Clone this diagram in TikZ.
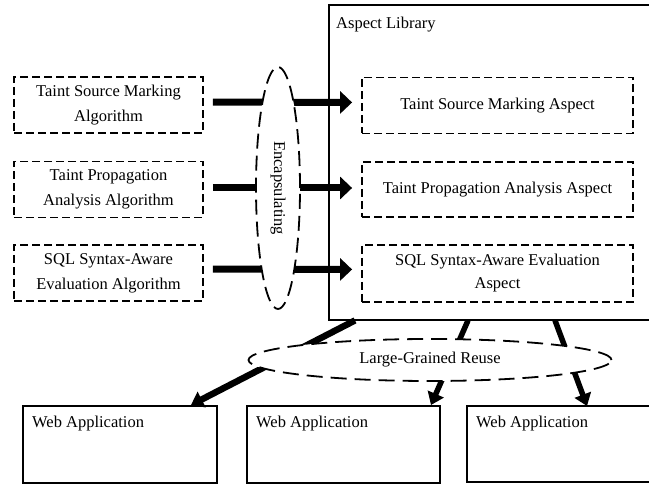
\documentclass[tikz,border=0pt]{standalone}
\usepackage{fontspec}
\setmainfont{Liberation Serif}
\usetikzlibrary{arrows.meta,shapes.geometric,calc}
\begin{document}
\begin{tikzpicture}[x=1pt,y=-1pt,
  txt/.style={font=\fontsize{16.5}{25}\selectfont, align=center},
  dashbox/.style={draw, line width=1.8pt, dash pattern=on 8pt off 4pt, rectangle, txt},
  solidbox/.style={draw, line width=2pt, rectangle},
  openbox/.style={rectangle, inner sep=0pt},
  dashell/.style={draw, ellipse, fill=white, line width=1.8pt, dash pattern=on 15pt off 7pt, inner sep=0pt},
  bigarrow/.style={line width=7pt, -{Triangle[length=12pt,width=22pt]}},
  downarrow/.style={line width=5.5pt, -{Triangle[length=12pt,width=17pt]}}]
\useasboundingbox (0,0) rectangle (649,484);
\fill[white] (0,0) rectangle (649,484);

% aspect library: its right side lies beyond the page, so only three sides are drawn
\node[openbox, minimum width=320pt, minimum height=315pt, anchor=north west] (al) at (329,5) {};
\draw[line width=2pt] (al.north east) -- (al.north west) -- (al.south west) -- (al.south east);
\node[txt, anchor=west, inner sep=0pt] (allabel) at (336,25) {Aspect Library};

% algorithms
\node[dashbox, minimum width=189pt, minimum height=56pt] (l1) at (108.5,105) {Taint Source Marking\\Algorithm};
\node[dashbox, minimum width=189pt, minimum height=56pt] (l2) at (108.5,189.5) {Taint Propagation\\Analysis Algorithm};
\node[dashbox, minimum width=189pt, minimum height=56pt] (l3) at (108.5,273) {SQL Syntax-Aware\\Evaluation Algorithm};

% aspects
\node[dashbox, minimum width=271pt, minimum height=56pt] (r1) at (497.5,105.5) {Taint Source Marking Aspect};
\node[dashbox, minimum width=271pt, minimum height=55pt] (r2) at (497.5,189.5) {Taint Propagation Analysis Aspect};
\node[dashbox, minimum width=271pt, minimum height=57pt, font=\fontsize{16.5}{23}\selectfont] (r3) at (497.5,273.5) {SQL Syntax-Aware Evaluation\\Aspect};

% web applications
\node[solidbox, minimum width=194pt, minimum height=77pt] (w1) at (120,444.5) {};
\node[solidbox, minimum width=193pt, minimum height=77pt] (w2) at (343.5,444.5) {};
\node[openbox, minimum width=182pt, minimum height=76pt, anchor=north west] (w3) at (467,406) {};
\draw[line width=2pt] (w3.north east) -- (w3.north west) -- (w3.south west) -- (w3.south east);
\node[txt, anchor=west, inner sep=0pt] (w1t) at (32,424) {Web Application};
\node[txt, anchor=west, inner sep=0pt] (w2t) at (256,424) {Web Application};
\node[txt, anchor=west, inner sep=0pt] (w3t) at (476,424) {Web Application};

% encapsulating arrows
\draw[bigarrow, shorten <=9pt, shorten >=9pt] ([yshift=3pt]l1.east) -- ([yshift=3pt]r1.west);
\draw[bigarrow, shorten <=9pt, shorten >=9pt] ([yshift=1.5pt]l2.east) -- ([yshift=1.5pt]r2.west);
\draw[bigarrow, shorten <=9pt, shorten >=9pt] ([yshift=4pt]l3.east) -- ([yshift=4pt]r3.west);

% reuse arrows
\draw[downarrow, line width=6.5pt] ([xshift=26pt]al.south west) -- ([xshift=-27pt]w1.north east);
\draw[downarrow] ([xshift=139pt]al.south west) -- ([xshift=-10pt]w2.north east);
\draw[downarrow] ([xshift=226pt]al.south west) -- ([xshift=120pt]w3.north west);

% grouping ellipses
\node[dashell, minimum width=44pt, minimum height=242pt] (enc) at (278,188) {};
\node[txt, rotate=-90] (enct) at (enc.center) {Encapsulating};
\node[dashell, minimum width=363pt, minimum height=42pt, dash pattern=on 16pt off 8pt] (reuse) at (430,360) {};
\node[txt] (reuset) at (reuse.center) {Large-Grained Reuse};
\end{tikzpicture}
\end{document}
